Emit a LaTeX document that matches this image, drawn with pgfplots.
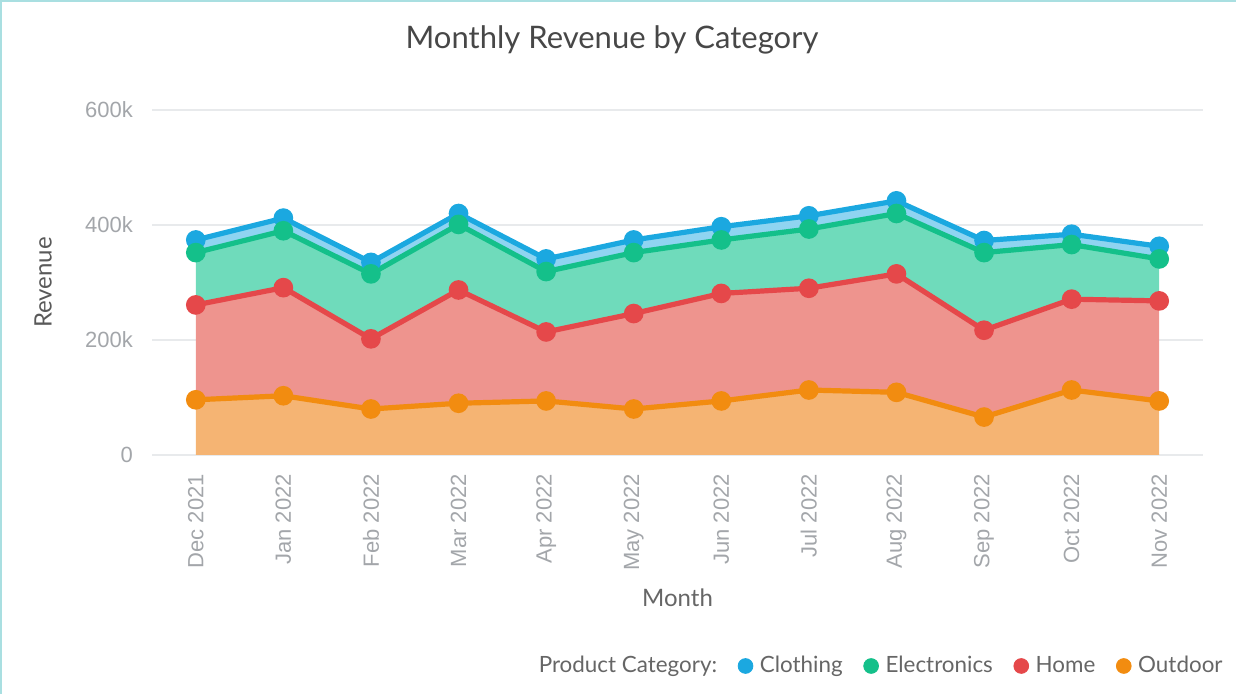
\documentclass[border=0pt]{standalone}
\usepackage{fontspec}
\setmainfont{Lato}
\newfontfamily\tickfont{Liberation Sans}
\usepackage{pgfplots}
\pgfplotsset{compat=1.18}
\usepackage{pgfplotstable}

\definecolor{clothL}{HTML}{1BA8E0}
\definecolor{clothF}{HTML}{8FD4F1}
\definecolor{elecL}{HTML}{14C08A}
\definecolor{elecF}{HTML}{6FDBBB}
\definecolor{homeL}{HTML}{E5484A}
\definecolor{homeF}{HTML}{EE948E}
\definecolor{outL}{HTML}{F28C10}
\definecolor{outF}{HTML}{F5B473}
\definecolor{gridc}{HTML}{E8EAEC}
\definecolor{tickc}{HTML}{A3A6AA}
\definecolor{framec}{HTML}{A9DFE1}

% revenue in thousands
\pgfplotstableread{
x out home elec cloth
0  96 165  91 22
1 103 188  99 22
2  80 122 113 20
3  90 197 114 19
4  94 120 105 22
5  80 166 106 22
6  94 187  93 23
7 113 177 103 23
8 109 206 105 22
9  66 151 135 21
10 113 158 95 18
11  94 174  73 22
}\revdata

\pgfplotsset{
  base/.style={
    width=525.5pt, height=172.5pt, scale only axis,
    xmin=-0.5, xmax=11.5, ymin=0, ymax=600,
    stack plots=y,
  },
}

\begin{document}
\begin{tikzpicture}
\useasboundingbox (-76pt,-119.5pt) rectangle (542pt,227.5pt);
% filled bands
\begin{axis}[base,
  axis line style={draw=none},
  major tick length=0pt,
  ymajorgrids, grid style={gridc, line width=0.8pt},
  ytick={0,200,400,600},
  yticklabels={0,200k,400k,600k},
  yticklabel style={font=\tickfont\fontsize{11}{12}\selectfont, text=tickc, xshift=-6pt},
  xtick={0,...,11},
  xticklabels={Dec 2021,Jan 2022,Feb 2022,Mar 2022,Apr 2022,May 2022,Jun 2022,Jul 2022,Aug 2022,Sep 2022,Oct 2022,Nov 2022},
  xticklabel style={font=\tickfont\fontsize{11}{12}\selectfont, text=tickc, rotate=90, anchor=east},
  xticklabel shift=6pt,
  xlabel={Month},
  xlabel style={font=\fontsize{12}{14}\selectfont, text=black!60, at={(axis description cs:0.5,0)}, anchor=center, yshift=-71.5pt},
  ylabel={Revenue},
  ylabel style={font=\fontsize{12}{14}\selectfont, text=black!65, at={(axis description cs:-0.1037,0.5)}, anchor=center},
  title={Monthly Revenue by Category},
  title style={font=\fontsize{15.5}{18}\selectfont, text=black!72, at={(axis description cs:0.4377,1)}, anchor=center, yshift=29pt},
  legend columns=-1,
  legend style={draw=none, fill=none, at={(1.0285,-0.6116)}, anchor=east,
    font=\fontsize{11.2}{13}\selectfont, text=black!60,
    /tikz/every odd column/.append style={column sep=1.5pt},
    /tikz/every even column/.append style={column sep=8.5pt}},
  legend cell align=left,
]
\addplot[draw=none, fill=outF, forget plot] table[x=x, y=out] {\revdata} \closedcycle;
\addplot[draw=none, fill=homeF, forget plot] table[x=x, y=home] {\revdata} \closedcycle;
\addplot[draw=none, fill=elecF, forget plot] table[x=x, y=elec] {\revdata} \closedcycle;
\addplot[draw=none, fill=clothF, forget plot] table[x=x, y=cloth] {\revdata} \closedcycle;
\addlegendimage{empty legend}
\addlegendentry{Product Category:\hspace{-6pt}}
\addlegendimage{only marks, mark=*, mark size=3.7pt, clothL}
\addlegendentry{Clothing}
\addlegendimage{only marks, mark=*, mark size=3.7pt, elecL}
\addlegendentry{Electronics}
\addlegendimage{only marks, mark=*, mark size=3.7pt, homeL}
\addlegendentry{Home}
\addlegendimage{only marks, mark=*, mark size=3.7pt, outL}
\addlegendentry{Outdoor}
\end{axis}
% lines with markers
\begin{axis}[base, hide axis]
\addplot[outL, line width=2.6pt, mark=*, mark size=3.6pt] table[x=x, y=out] {\revdata};
\addplot[homeL, line width=2.6pt, mark=*, mark size=3.6pt] table[x=x, y=home] {\revdata};
\addplot[elecL, line width=2.6pt, mark=*, mark size=3.6pt] table[x=x, y=elec] {\revdata};
\addplot[clothL, line width=2.6pt, mark=*, mark size=3.6pt] table[x=x, y=cloth] {\revdata};
\end{axis}
\draw[framec, line width=1.2pt] (-75.4pt,-119.5pt) -- (-75.4pt,226.9pt) -- (542pt,226.9pt);
\end{tikzpicture}
\end{document}
